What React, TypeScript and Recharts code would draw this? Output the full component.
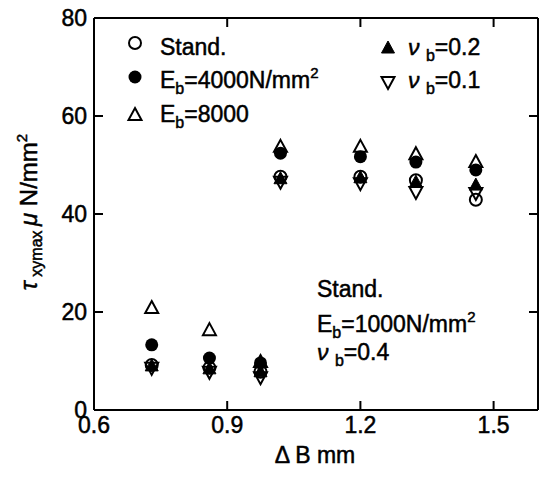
import React from "react";
import { ScatterChart, Scatter, XAxis, YAxis } from "recharts";

// delta B (mm) positions of the measured points
const deltaB = [0.73, 0.86, 0.975, 1.02, 1.2, 1.325, 1.46];

// tau xymax values per case (N/mm^2)
const standVals = [9.2, 8.6, 7.8, 47.6, 47.6, 46.9, 42.9];
const eb4000Vals = [13.3, 10.6, 9.6, 52.4, 51.7, 50.6, 49.0];
const eb8000Vals = [20.8, 16.3, 9.8, 53.7, 53.7, 52.2, 50.6];
const nu02Vals = [9.0, 8.4, 7.8, 47.2, 47.4, 46.5, 45.9];
const nu01Vals = [8.6, 7.8, 6.7, 46.6, 46.3, 44.5, 44.3];

const xTicks = [0.6, 0.9, 1.2, 1.5];
const yTicks = [0, 20, 40, 60, 80];

const toPoints = (vals: number[]) => vals.map((y, i) => ({ x: deltaB[i], y }));

const FONT = "'Liberation Sans', Arial, sans-serif";
const INK = "#000";

const OpenCircle = (p: any) => (
  <circle cx={p.cx} cy={p.cy} r={6} fill="none" stroke={INK} strokeWidth={2} />
);
const FilledCircle = (p: any) => <circle cx={p.cx} cy={p.cy} r={6.5} fill={INK} />;
const triPath = (cx: number, cy: number, down = false) =>
  down
    ? `M${cx},${cy + 7} L${cx + 6.5},${cy - 5} L${cx - 6.5},${cy - 5} Z`
    : `M${cx},${cy - 7} L${cx + 6.5},${cy + 5} L${cx - 6.5},${cy + 5} Z`;
const OpenTri = (p: any) => (
  <path d={triPath(p.cx, p.cy)} fill="none" stroke={INK} strokeWidth={2} strokeLinejoin="miter" />
);
const FilledTri = (p: any) => <path d={triPath(p.cx, p.cy)} fill={INK} stroke={INK} strokeWidth={1} />;
const DownTri = (p: any) => (
  <path d={triPath(p.cx, p.cy, true)} fill="none" stroke={INK} strokeWidth={2} />
);

const axisStyle = { stroke: INK, strokeWidth: 2 };
const tickStyle = { fill: INK, fontSize: 23, fontFamily: FONT, stroke: INK, strokeWidth: 0.5 };

const Sub = ({ children }: { children: React.ReactNode }) => (
  <tspan fontSize={16} dy={6}>
    {children}
  </tspan>
);

export default function App() {
  return (
    <div style={{ position: "absolute", left: 0, top: 0, width: 540, height: 477, background: "#fff" }}>
      <ScatterChart width={540} height={477} margin={{ top: 17, right: 1, bottom: 66, left: 93 }}>
        <XAxis
          xAxisId="b"
          type="number"
          dataKey="x"
          domain={[0.6, 1.6]}
          ticks={xTicks}
          height={1}
          tickSize={-9}
          tickMargin={16}
          axisLine={axisStyle}
          tickLine={axisStyle}
          tick={tickStyle}
          tickFormatter={(v: number) => v.toFixed(1)}
        />
        <XAxis
          xAxisId="t"
          orientation="top"
          type="number"
          dataKey="x"
          domain={[0.6, 1.6]}
          ticks={xTicks}
          height={1}
          tickSize={-9}
          axisLine={axisStyle}
          tickLine={axisStyle}
          tickFormatter={() => ""}
        />
        <YAxis
          yAxisId="l"
          type="number"
          dataKey="y"
          domain={[0, 80]}
          ticks={yTicks}
          width={1}
          tickSize={-9}
          tickMargin={16}
          axisLine={axisStyle}
          tickLine={axisStyle}
          tick={tickStyle}
        />
        <YAxis
          yAxisId="r"
          orientation="right"
          type="number"
          dataKey="y"
          domain={[0, 80]}
          ticks={yTicks}
          width={1}
          tickSize={-9}
          axisLine={axisStyle}
          tickLine={axisStyle}
          tickFormatter={() => ""}
        />
        {/* frame helper: keeps the top and right axes bound to the same data */}
        <Scatter xAxisId="t" yAxisId="r" data={toPoints(standVals)} shape={() => <g />} isAnimationActive={false} />
        <Scatter xAxisId="b" yAxisId="l" data={toPoints(standVals)} shape={OpenCircle} isAnimationActive={false} />
        <Scatter xAxisId="b" yAxisId="l" data={toPoints(nu02Vals)} shape={FilledTri} isAnimationActive={false} />
        <Scatter xAxisId="b" yAxisId="l" data={toPoints(nu01Vals)} shape={DownTri} isAnimationActive={false} />
        <Scatter xAxisId="b" yAxisId="l" data={toPoints(eb8000Vals)} shape={OpenTri} isAnimationActive={false} />
        <Scatter xAxisId="b" yAxisId="l" data={toPoints(eb4000Vals)} shape={FilledCircle} isAnimationActive={false} />
      </ScatterChart>

      {/* legend, annotation and axis titles */}
      <svg
        width={540}
        height={477}
        style={{ position: "absolute", left: 0, top: 0, pointerEvents: "none" }}
        fontFamily={FONT}
        fill={INK}
      >
        <OpenCircle cx={135} cy={43} />
        <FilledCircle cx={135} cy={77} />
        <OpenTri cx={135} cy={115} />
        <FilledTri cx={388} cy={48} />
        <DownTri cx={388} cy={82} />

        <g stroke={INK} strokeWidth={0.5}>
          <text x={160} y={55} fontSize={23}>Stand.</text>
          <text x={160} y={88} fontSize={23}>
            E<Sub>b</Sub>
            <tspan dy={-6}>=4000N/mm</tspan>
            <tspan fontSize={15} dy={-10}>2</tspan>
          </text>
          <text x={160} y={122} fontSize={23}>
            E<Sub>b</Sub>
            <tspan dy={-6}>=8000</tspan>
          </text>
          <text x={408} y={55} fontSize={23}>
            <tspan fontStyle="italic">ν</tspan> <Sub>b</Sub>
            <tspan dy={-6}>=0.2</tspan>
          </text>
          <text x={408} y={88} fontSize={23}>
            <tspan fontStyle="italic">ν</tspan> <Sub>b</Sub>
            <tspan dy={-6}>=0.1</tspan>
          </text>

          <text x={317} y={297} fontSize={23}>Stand.</text>
          <text x={317} y={332} fontSize={23}>
            E<Sub>b</Sub>
            <tspan dy={-6}>=1000N/mm</tspan>
            <tspan fontSize={15} dy={-10}>2</tspan>
          </text>
          <text x={317} y={360} fontSize={23}>
            <tspan fontStyle="italic">ν</tspan> <Sub>b</Sub>
            <tspan dy={-6}>=0.4</tspan>
          </text>

          <text x={315} y={463} fontSize={23} textAnchor="middle">Δ B mm</text>

          <text transform="translate(37,212) rotate(-90)" fontSize={24} textAnchor="middle">
            <tspan fontStyle="italic">τ</tspan>
            <tspan fontSize={16} dy={5}> xymax </tspan>
            <tspan dy={-5} fontStyle="italic">μ</tspan>
            <tspan> N/mm</tspan>
            <tspan fontSize={15} dy={-10}>2</tspan>
          </text>
        </g>
      </svg>
    </div>
  );
}
